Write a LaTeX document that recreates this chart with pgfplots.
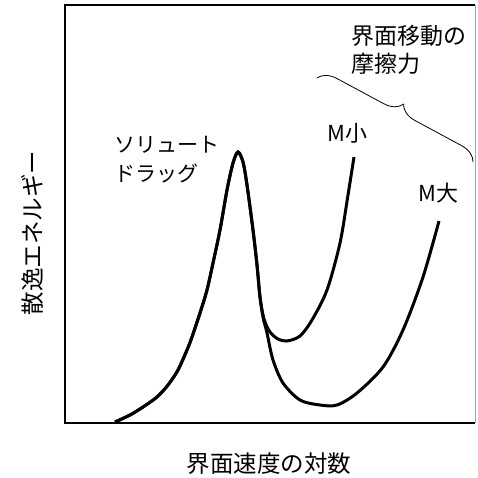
\documentclass[border=0pt]{standalone}
\usepackage{pgfplots}
\pgfplotsset{compat=1.18}
\usepackage{fontspec}
\newfontfamily\cjk{Noto Sans CJK JP}
\usetikzlibrary{decorations.pathreplacing}
\begin{document}
\begin{tikzpicture}
\begin{axis}[scale only axis, width=410pt, height=418pt,
  xmin=65, xmax=475, ymin=0, ymax=418,
  axis line style={draw=none}, ticks=none, clip=false]
% invisible bounding box matching reference
\path (axis cs:0,-54) rectangle (axis cs:478,423);
% frame
\draw[line width=2.2pt] (axis cs:475,418) -- (axis cs:65,418) -- (axis cs:65,0) -- (axis cs:475,0);
\draw[line width=0.6pt, black!35] (axis cs:475,0) -- (axis cs:475,418);
% M small
\addplot[line width=3pt, smooth, tension=0.5] coordinates {
(115,1) (130,8) (143,16) (157,26) (168,38) (178,53) (187,73) (192,86) (200,110) (207,133)
(213,160) (220,193) (227,233) (233,260) (238,271) (243,261) (247,238) (253,193) (257,158) (260,126)
(264,104) (270,91) (278,84) (287,82) (300,87)
(312,103) (327,133) (340,180) (348,228) (354,266)};
% M large
\addplot[line width=3pt, smooth, tension=0.5] coordinates {
(115,1) (130,8) (143,16) (157,26) (168,38) (178,53) (187,73) (192,86) (200,110) (207,133)
(213,160) (220,193) (227,233) (233,260) (238,271) (243,261) (247,238) (253,193) (257,158) (260,126)
(263,106) (267,90) (273,63) (283,40) (300,23)
(320,18) (337,18) (357,30) (383,56) (403,93) (423,146) (439,202)};
% brace
\draw[line width=0.8pt, decorate, decoration={brace, amplitude=18pt}] (axis cs:317,345) -- (axis cs:473,261);
% labels
\node[anchor=base west, inner sep=0pt, font=\cjk\fontsize{23}{27}\selectfont] at (axis cs:351,378) {界面移動の};
\node[anchor=base west, inner sep=0pt, font=\cjk\fontsize{23}{27}\selectfont] at (axis cs:351,350) {摩擦力};
\node[anchor=base west, inner sep=0pt, font=\cjk\fontsize{21}{25}\selectfont] at (axis cs:114,270) {ソリュート};
\node[anchor=base west, inner sep=0pt, font=\cjk\fontsize{21}{25}\selectfont] at (axis cs:114,242) {ドラッグ};
\node[anchor=base west, inner sep=0pt, font=\cjk\fontsize{22}{26}\selectfont] at (axis cs:327,282) {M小};
\node[anchor=base west, inner sep=0pt, font=\cjk\fontsize{22}{26}\selectfont] at (axis cs:418,222) {M大};
\node[anchor=base, inner sep=0pt, font=\cjk\fontsize{23.5}{27}\selectfont] at (axis cs:269,-49) {界面速度の対数};
\node[anchor=center, rotate=90, inner sep=0pt, font=\cjk\fontsize{23.5}{27}\selectfont] at (axis cs:32,190) {散逸エネルギー};
\end{axis}
\end{tikzpicture}
\end{document}
